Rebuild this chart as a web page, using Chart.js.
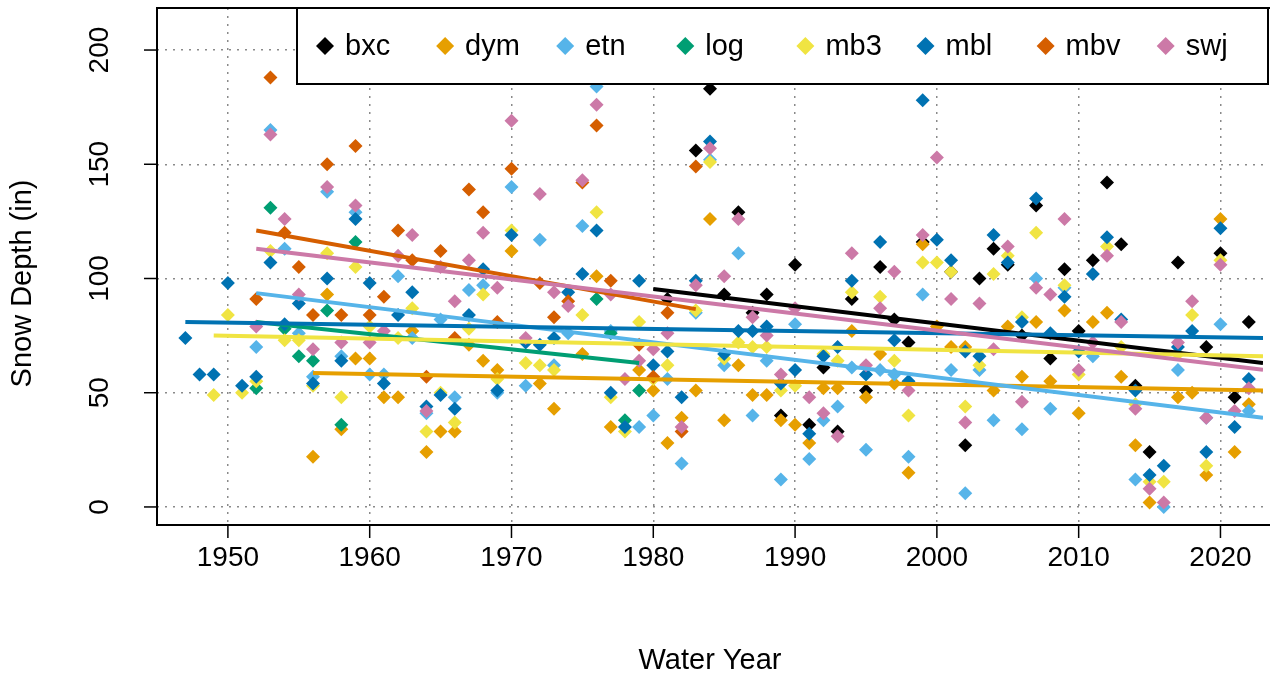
<!DOCTYPE html>
<html lang="en">
<head>
    <meta charset="UTF-8">
    <title>Snow Depth by Water Year</title>
    <style>
        body {
            margin: 0;
            background-color: white;
        }
        canvas {
            display: block;
        }
    </style>
</head>
<body>
    <canvas id="snowChart" width="1270" height="677"></canvas>

    <script src="https://cdn.jsdelivr.net/npm/chart.js"></script>
    <script>
        // water years shared by every site
        const years = [
            1947, 1948, 1949, 1950, 1951, 1952, 1953, 1954, 1955, 1956,
            1957, 1958, 1959, 1960, 1961, 1962, 1963, 1964, 1965, 1966,
            1967, 1968, 1969, 1970, 1971, 1972, 1973, 1974, 1975, 1976,
            1977, 1978, 1979, 1980, 1981, 1982, 1983, 1984, 1985, 1986,
            1987, 1988, 1989, 1990, 1991, 1992, 1993, 1994, 1995, 1996,
            1997, 1998, 1999, 2000, 2001, 2002, 2003, 2004, 2005, 2006,
            2007, 2008, 2009, 2010, 2011, 2012, 2013, 2014, 2015, 2016,
            2017, 2018, 2019, 2020, 2021, 2022
        ];

        const bxc = [
            null, null, null, null, null, null, null, null, null, null,
            null, null, null, null, null, null, null, null, null, null,
            null, null, null, null, null, null, null, null, null, null,
            null, null, null, null, 91, null, 156, 183, 93, 129,
            85, 93, 40, 106, 36, 61, 33, 91, 51, 105,
            82, 72, 116, null, 103, 27, 100, 113, 106, 75,
            132, 65, 104, 77, 108, 142, 115, 53, 24, null,
            107, null, 70, 111, 48, 81
        ];
        const dym = [
            null, null, null, null, null, null, null, null, null, 22,
            93, 34, 65, 65, 48, 48, 77, 24, 33, 33,
            71, 64, 60, 112, null, 54, 43, null, 67, 101,
            35, null, 60, 51, 28, 39, 51, 126, 38, 62,
            49, 49, 38, 36, 28, 52, 52, 77, 48, 67,
            54, 15, 115, 79, 70, 70, null, 51, 79, 57,
            81, 55, 86, 41, 81, 85, 57, 27, 2, null,
            48, 50, 14, 126, 24, 45
        ];
        const etn = [
            null, null, null, null, null, 70, 165, 113, 76, 57,
            138, 66, 129, 58, 58, 101, 74, 41, 82, 48,
            95, 97, 50, 140, 53, 117, 62, 76, 123, 184,
            77, null, 35, 40, 56, 19, 85, 152, 62, 111,
            40, 64, 12, 80, 21, 38, 44, 61, 25, 60,
            58, 22, 93, null, 60, 6, 60, 38, null, 34,
            100, 43, 96, null, 66, null, null, 12, null, 0,
            60, null, 39, 80, null, 42
        ];
        const log = [
            null, null, null, null, null, 52, 131, 78, 66, 64,
            86, 36, 116, null, null, null, null, null, null, null,
            null, null, null, null, null, null, null, null, null, 91,
            76, 38, 51, null, null, null, null, null, null, null,
            null, null, null, null, null, null, null, null, null, null,
            null, null, null, null, null, null, null, null, null, null,
            null, null, null, null, null, null, null, null, null, null,
            null, null, null, null, null, null
        ];
        const mb3 = [
            null, null, 49, 84, 50, 55, 112, 73, 73, 53,
            111, 48, 105, 79, null, 74, 87, 33, 50, 37,
            78, 93, 56, 121, 63, 62, 60, null, 84, 129,
            48, 33, 81, 56, 62, null, 86, 151, 65, 72,
            70, 70, 51, 53, null, 67, 64, 94, null, 92,
            64, 40, 107, 107, 103, 44, 62, 102, 110, 83,
            120, null, 97, 58, null, 114, 70, 45, 11, 11,
            67, 84, 18, 108, null, null
        ];
        const mbl = [
            74, 58, 58, 98, 53, 57, 107, 80, 89, 54,
            100, 64, 126, 98, 54, 84, 94, 44, 49, 43,
            84, 104, 51, 119, 72, 71, 74, 94, 102, 121,
            50, 35, 99, 62, 68, 48, 99, 160, 67, 77,
            77, 79, 54, 60, 32, 66, 70, 99, 58, 116,
            73, 55, 178, 117, 108, 68, 66, 119, 107, 81,
            135, 76, 92, 68, 102, 118, 82, 51, 14, 18,
            70, 77, 24, 122, 35, 56
        ];
        const mbv = [
            null, null, null, null, null, 91, 188, 120, 105, 84,
            150, 84, 158, 84, 92, 121, 108, 57, 112, 74,
            139, 129, 81, 148, null, 98, 83, 90, 142, 167,
            99, null, 71, 57, 85, 33, 149, null, null, null,
            null, null, null, null, null, null, null, null, null, null,
            null, null, null, null, null, null, null, null, null, null,
            null, null, null, null, null, null, null, null, null, null,
            null, null, null, null, null, null
        ];
        const swj = [
            null, null, null, null, null, 79, 163, 126, 93, 69,
            140, 72, 132, 72, 77, 110, 119, 42, 105, 90,
            108, 120, 96, 169, 74, 137, 94, 88, 143, 176,
            93, 56, 64, 69, 76, 35, 97, 157, 101, 126,
            83, 75, 58, 87, 48, 41, 31, 111, 62, 87,
            103, 51, 119, 153, 91, 37, 89, 69, 114, 46,
            96, 93, 126, 60, 72, 110, 81, 43, 8, 2,
            72, 90, 39, 106, 42, 52
        ];

        const sites = ['bxc', 'dym', 'etn', 'log', 'mb3', 'mbl', 'mbv', 'swj'];
        const siteValues = [bxc, dym, etn, log, mb3, mbl, mbv, swj];
        const siteColors = ['#000000', '#E69F00', '#56B4E9', '#009E73', '#F0E442', '#0072B2', '#D55E00', '#CC79A7'];

        // fitted trend lines
        const trendStartYear = [1980, 1956, 1952, 1952, 1949, 1947, 1952, 1952];
        const trendEndYear   = [2023, 2023, 2023, 1979, 2023, 2023, 1983, 2023];
        const trendStartVal  = [95.4, 58.6, 93.6, 81, 75, 81, 121, 113];
        const trendEndVal    = [63, 51, 39, 63, 66, 74, 86.6, 60];

        const xTicks = [1950, 1960, 1970, 1980, 1990, 2000, 2010, 2020];
        const yTicks = [0, 50, 100, 150, 200];

        const FONT = '"Liberation Sans", Arial, Helvetica, sans-serif';

        const datasets = [];
        sites.forEach((site, i) => {
            const pts = [];
            years.forEach((yr, j) => {
                if (siteValues[i][j] !== null) pts.push({ x: yr, y: siteValues[i][j] });
            });
            datasets.push({
                type: 'scatter',
                label: site,
                data: pts,
                backgroundColor: siteColors[i],
                borderWidth: 0,
                pointStyle: 'rectRot',
                pointRadius: 7,
                order: 20 - i
            });
        });
        sites.forEach((site, i) => {
            datasets.push({
                type: 'line',
                label: site + ' trend',
                data: [{ x: trendStartYear[i], y: trendStartVal[i] }, { x: trendEndYear[i], y: trendEndVal[i] }],
                borderColor: siteColors[i],
                borderWidth: 4,
                pointRadius: 0,
                fill: false,
                order: 8 - i
            });
        });

        // axes text, ticks, box and legend in R base-graphics style
        const rStyle = {
            id: 'rStyle',
            afterDraw(chart) {
                const ctx = chart.ctx;
                const area = chart.chartArea;
                const xs = chart.scales.x;
                const ys = chart.scales.y;
                ctx.save();
                ctx.fillStyle = '#000';
                ctx.strokeStyle = '#000';

                // plot box
                ctx.lineWidth = 2;
                ctx.strokeRect(area.left, area.top, area.right - area.left + 10, area.bottom - area.top);

                // tick marks and labels
                ctx.lineWidth = 1.5;
                ctx.font = '28px ' + FONT;
                ctx.textAlign = 'center';
                ctx.textBaseline = 'middle';
                xTicks.forEach(v => {
                    const px = xs.getPixelForValue(v);
                    ctx.beginPath();
                    ctx.moveTo(px, area.bottom);
                    ctx.lineTo(px, area.bottom + 13);
                    ctx.stroke();
                    ctx.fillText(String(v), px, 558);
                });
                yTicks.forEach(v => {
                    const py = ys.getPixelForValue(v);
                    ctx.beginPath();
                    ctx.moveTo(area.left, py);
                    ctx.lineTo(area.left - 13, py);
                    ctx.stroke();
                    ctx.save();
                    ctx.translate(100, py);
                    ctx.rotate(-Math.PI / 2);
                    ctx.fillText(String(v), 0, 0);
                    ctx.restore();
                });

                // axis titles
                ctx.font = '29px ' + FONT;
                ctx.fillText('Water Year', (area.left + area.right) / 2, 661);
                ctx.save();
                ctx.translate(23, (area.top + area.bottom) / 2 + 17);
                ctx.rotate(-Math.PI / 2);
                ctx.fillText('Snow Depth (in)', 0, 0);
                ctx.restore();

                // legend
                const lx = 297, ly = area.top, lw = 971, lh = 76;
                ctx.fillStyle = '#fff';
                ctx.fillRect(lx, ly, lw, lh);
                ctx.lineWidth = 2;
                ctx.strokeRect(lx, ly, lw, lh);
                ctx.font = '29px ' + FONT;
                ctx.textAlign = 'left';
                sites.forEach((site, i) => {
                    const mx = 325 + i * 120.1;
                    const my = ly + 38;
                    ctx.fillStyle = siteColors[i];
                    ctx.beginPath();
                    ctx.moveTo(mx, my - 9);
                    ctx.lineTo(mx + 9, my);
                    ctx.lineTo(mx, my + 9);
                    ctx.lineTo(mx - 9, my);
                    ctx.closePath();
                    ctx.fill();
                    ctx.fillStyle = '#000';
                    ctx.fillText(site, mx + 20, my + 1);
                });
                ctx.restore();
            }
        };

        const ctx = document.getElementById('snowChart').getContext('2d');
        const snowChart = new Chart(ctx, {
            data: { datasets: datasets },
            options: {
                responsive: false,
                animation: false,
                layout: { padding: { left: 0, top: 8, right: 0, bottom: 0 } },
                plugins: {
                    legend: { display: false },
                    tooltip: { enabled: false }
                },
                scales: {
                    x: {
                        type: 'linear',
                        min: 1945,
                        max: 2023,
                        afterBuildTicks: s => { s.ticks = xTicks.map(v => ({ value: v })); },
                        afterFit: s => { s.height = 152; },
                        ticks: { display: false },
                        grid: { color: '#8a8a8a', lineWidth: 1.5, drawTicks: false },
                        border: { display: false, dash: [2, 6] }
                    },
                    y: {
                        type: 'linear',
                        min: -7.9,
                        max: 218.4,
                        afterBuildTicks: s => { s.ticks = yTicks.map(v => ({ value: v })); },
                        afterFit: s => { s.width = 157; },
                        ticks: { display: false },
                        grid: { color: '#8a8a8a', lineWidth: 1.5, drawTicks: false },
                        border: { display: false, dash: [2, 6] }
                    }
                }
            },
            plugins: [rStyle]
        });
    </script>
</body>
</html>
